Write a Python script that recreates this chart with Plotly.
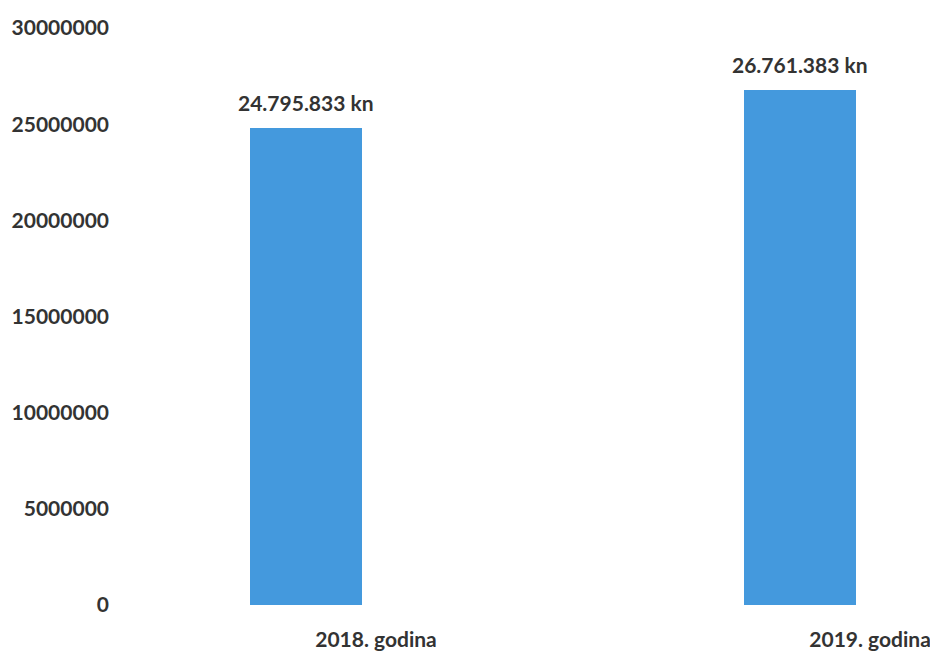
import plotly.graph_objects as go

categories = ["2018. godina", "2019. godina"]
values = [24795833, 26761383]
tick_vals = [0, 5000000, 10000000, 15000000, 20000000, 25000000, 30000000]
tick_text = ["0", "5000000", "10000000", "15000000", "20000000", "25000000", "30000000"]

FONT = "Lato"
TXT = "#333333"

fig = go.Figure(
    go.Bar(
        x=categories,
        y=values,
        width=0.225,
        marker=dict(color="#4499DD", line=dict(width=0)),
        hoverinfo="x+y",
    )
)

for c, v in zip(categories, values):
    fig.add_annotation(
        x=c, y=v, xref="x", yref="y",
        text=f"{v:,}".replace(",", ".") + " kn",
        showarrow=False, yanchor="middle", yshift=26,
        font=dict(family=FONT, size=21, color=TXT, weight="bold"),
    )

fig.update_layout(
    width=930,
    height=645,
    margin=dict(l=112, r=8, t=20, b=48, autoexpand=False),
    paper_bgcolor="white",
    plot_bgcolor="white",
    separators=",.",
    showlegend=False,
    bargap=0,
    xaxis=dict(
        range=[-0.3765, 1.263],
        showgrid=False,
        showline=False,
        zeroline=False,
        ticks="",
        automargin=False,
        tickfont=dict(family=FONT, size=21, color=TXT, weight="bold"),
        ticklabelshift=70,
        ticklabelstandoff=20,
    ),
    yaxis=dict(
        range=[0, 30000000],
        tickvals=tick_vals,
        ticktext=tick_text,
        showgrid=False,
        showline=False,
        zeroline=False,
        ticks="",
        automargin=False,
        tickfont=dict(family=FONT, size=21, color=TXT, weight="bold"),
        ticklabelstandoff=10,
    ),
)

fig.write_html("out.html")
